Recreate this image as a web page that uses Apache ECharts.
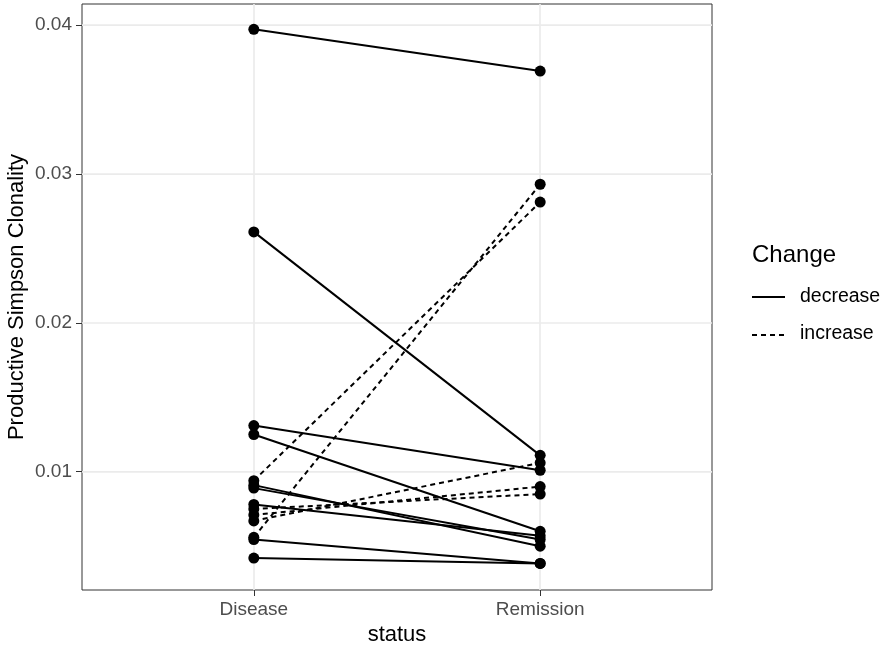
<!DOCTYPE html>
<html>
<head>
<meta charset="utf-8">
<script src="https://cdn.jsdelivr.net/npm/echarts@6/dist/echarts.min.js"></script>
<style>
html,body{margin:0;padding:0;background:#fff;}
#chart{width:883px;height:648px;}
</style>
</head>
<body>
<div id="chart"></div>
<script>
// ---- data ----
const categories = ['Disease', 'Remission'];
const diseaseValues   = [0.0397, 0.0261, 0.0131, 0.0125, 0.0091, 0.0089, 0.0078, 0.00545, 0.0042, 0.0094, 0.0056, 0.0067, 0.0071, 0.0075];
const remissionValues = [0.0369, 0.0111, 0.0101, 0.0060, 0.0050, 0.00545, 0.0057, 0.00384, 0.00384, 0.0281, 0.0293, 0.0106, 0.0090, 0.0085];
const changeType      = ['decrease','decrease','decrease','decrease','decrease','decrease','decrease','decrease','decrease','increase','increase','increase','increase','increase'];
const yTickValues = [0.01, 0.02, 0.03, 0.04];
const yMinorValues = [0.005, 0.015, 0.025, 0.035];
const legendLabels = ['decrease', 'increase'];
const xPositions = [1, 2];

// ---- chart ----
const chart = echarts.init(document.getElementById('chart'), null, {renderer: 'canvas'});
const FONT = 'Liberation Sans, Arial, Helvetica, sans-serif';
const dashPattern = [5, 4];

const pairSeries = diseaseValues.map((d, i) => ({
  type: 'line',
  name: changeType[i],
  data: [[xPositions[0], d], [xPositions[1], remissionValues[i]]],
  symbol: 'circle',
  symbolSize: 11,
  clip: false,
  itemStyle: {color: '#000', borderWidth: 0},
  lineStyle: {color: '#000', width: 2, type: changeType[i] === 'increase' ? dashPattern : 'solid'},
  z: 10,
  silent: true
}));

const gridSeries = {
  type: 'line',
  data: [],
  z: 1,
  silent: true,
  markLine: {
    silent: true,
    z: 1,
    symbol: 'none',
    label: {show: false},
    animation: false,
    data: [
      ...yMinorValues.map(v => ({yAxis: v, lineStyle: {color: '#EBEBEB', width: 1, type: 'solid'}})),
      ...yTickValues.map(v => ({yAxis: v, lineStyle: {color: '#EBEBEB', width: 1.7, type: 'solid'}})),
      ...xPositions.map(v => ({xAxis: v, lineStyle: {color: '#EBEBEB', width: 1.7, type: 'solid'}}))
    ]
  }
};

const legendX = 752;
const option = {
  animation: false,
  backgroundColor: '#fff',
  textStyle: {fontFamily: FONT},
  grid: {left: 82, top: 4, width: 630, height: 586, show: true, borderColor: '#333', borderWidth: 1, containLabel: false, outerBoundsMode: 'none'},
  xAxis: {
    type: 'value', min: 0.4, max: 2.6,
    name: 'status', nameLocation: 'middle', nameGap: 31,
    nameTextStyle: {fontSize: 22, color: '#000', fontFamily: FONT},
    axisLine: {show: false},
    axisTick: {show: true, customValues: xPositions, length: 6, lineStyle: {color: '#333', width: 1}},
    axisLabel: {customValues: xPositions, formatter: v => categories[Math.round(v) - 1], margin: 10, fontSize: 19, color: '#4D4D4D', fontFamily: FONT},
    splitLine: {show: false}
  },
  yAxis: {
    type: 'value', min: 0.00206, max: 0.0414,
    name: 'Productive Simpson Clonality', nameLocation: 'middle', nameGap: 54, nameRotate: 90,
    nameMoveOverlap: false,
    nameTextStyle: {fontSize: 22, color: '#000', fontFamily: FONT},
    axisLine: {show: false},
    axisTick: {show: true, customValues: yTickValues, length: 6, lineStyle: {color: '#333', width: 1}},
    axisLabel: {customValues: yTickValues, formatter: v => v.toFixed(2), margin: 10, fontSize: 19, color: '#4D4D4D', fontFamily: FONT},
    splitLine: {show: false}
  },
  graphic: [
    {type: 'text', left: legendX, top: 243, style: {text: 'Change', font: '24px ' + FONT, fill: '#000'}},
    {type: 'line', shape: {x1: legendX, y1: 297, x2: legendX + 33, y2: 297}, style: {stroke: '#000', lineWidth: 2}},
    {type: 'text', left: 800, top: 287, style: {text: legendLabels[0], font: '19.5px ' + FONT, fill: '#000'}},
    {type: 'line', shape: {x1: legendX, y1: 335, x2: legendX + 33, y2: 335}, style: {stroke: '#000', lineWidth: 2, lineDash: dashPattern}},
    {type: 'text', left: 800, top: 324, style: {text: legendLabels[1], font: '19.5px ' + FONT, fill: '#000'}}
  ],
  series: [gridSeries, ...pairSeries]
};
chart.setOption(option);
</script>
</body>
</html>
